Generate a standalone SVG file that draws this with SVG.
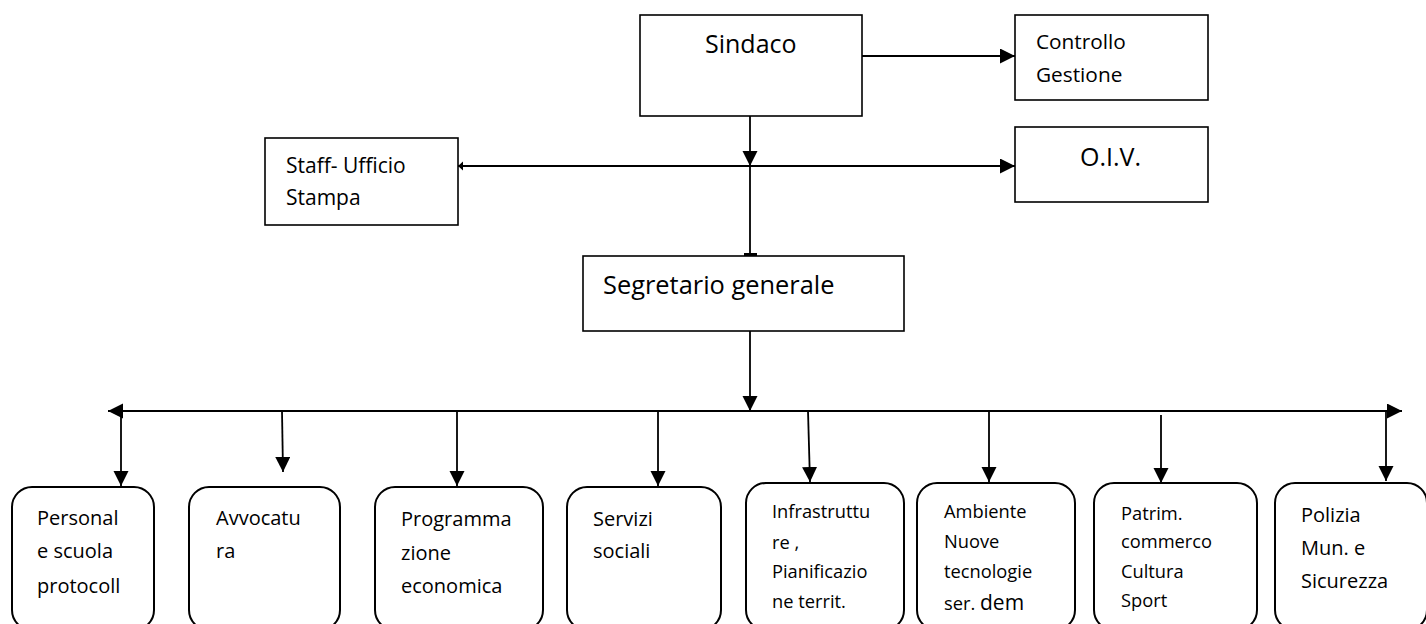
<svg xmlns="http://www.w3.org/2000/svg" width="1426" height="624" viewBox="0 0 1426 624">
  <style>
    .box { fill: #ffffff; stroke: #000000; stroke-width: 1.6; }
    .rbox { fill: #ffffff; stroke: #000000; stroke-width: 2; }
    .line { fill: none; stroke: #000000; stroke-width: 1.8; }
    text { font-family: "Open Sans", "Liberation Sans", sans-serif; fill: #000000; }
    .t20 { font-size: 20px; }
    .t18 { font-size: 18.3px; }
    .t25 { font-size: 25px; }
  </style>
  <defs>
    <marker id="arrow" markerUnits="userSpaceOnUse" markerWidth="16" markerHeight="16" refX="15" refY="7.5" orient="auto" viewBox="0 0 16 16">
      <path d="M0,0 L15,7.5 L0,15 z" fill="#000000"/>
    </marker>
    <marker id="small" markerUnits="userSpaceOnUse" markerWidth="8" markerHeight="10" refX="5" refY="4.5" orient="auto" viewBox="0 0 8 10">
      <path d="M0,0 L5,4.5 L0,9 z" fill="#000000"/>
    </marker>
  </defs>

  <g id="connectors">
    <line class="line" x1="862" y1="56" x2="1015" y2="56" marker-end="url(#arrow)"/>
    <line class="line" x1="750" y1="116" x2="750" y2="166" marker-end="url(#arrow)"/>
    <line class="line" x1="750" y1="166" x2="1015" y2="166" marker-end="url(#arrow)"/>
    <line class="line" x1="750" y1="166" x2="458" y2="166" marker-end="url(#small)"/>
    <line class="line" x1="750" y1="166" x2="750" y2="256"/>
    <rect x="744" y="253" width="13" height="3" fill="#000000"/>
    <line class="line" x1="750" y1="331" x2="750" y2="411" marker-end="url(#arrow)"/>
    <line class="line" x1="750" y1="411" x2="108" y2="411" marker-end="url(#arrow)"/>
    <line class="line" x1="750" y1="411" x2="1402" y2="411" marker-end="url(#arrow)"/>
    <line class="line" x1="121" y1="411" x2="121" y2="486" marker-end="url(#arrow)"/>
    <line class="line" x1="282" y1="411" x2="283" y2="472" marker-end="url(#arrow)"/>
    <line class="line" x1="457" y1="411" x2="457" y2="486" marker-end="url(#arrow)"/>
    <line class="line" x1="658" y1="411" x2="658" y2="486" marker-end="url(#arrow)"/>
    <line class="line" x1="808" y1="411" x2="810" y2="482" marker-end="url(#arrow)"/>
    <line class="line" x1="989" y1="411" x2="989" y2="482" marker-end="url(#arrow)"/>
    <line class="line" x1="1161" y1="415" x2="1161" y2="483" marker-end="url(#arrow)"/>
    <line class="line" x1="1386" y1="411" x2="1386" y2="481" marker-end="url(#arrow)"/>
  </g>

  <g id="sindaco">
    <rect class="box" x="640" y="15" width="222" height="101"/>
    <text class="t25" x="705" y="53">Sindaco</text>
  </g>

  <g id="controllo-gestione">
    <rect class="box" x="1015" y="15" width="193" height="85"/>
    <text class="t20" x="1036" y="49" style="font-size:20.8px">Controllo</text>
    <text class="t20" x="1036" y="82" style="font-size:20.8px">Gestione</text>
  </g>

  <g id="oiv">
    <rect class="box" x="1015" y="127" width="193" height="75"/>
    <text class="t25" x="1080" y="166">O.I.V.</text>
  </g>

  <g id="staff">
    <rect class="box" x="265" y="138" width="193" height="87"/>
    <text class="t20" x="286" y="173" style="font-size:21px">Staff- Ufficio</text>
    <text class="t20" x="286" y="205" style="font-size:21px">Stampa</text>
  </g>

  <g id="segretario">
    <rect class="box" x="583" y="256" width="321" height="75"/>
    <text class="t25" x="603" y="294" style="font-size:25.4px">Segretario generale</text>
  </g>

  <g id="personale">
    <rect class="rbox" x="12" y="487" width="142" height="143" rx="20" ry="20"/>
    <text class="t20" x="37" y="525">Personal</text>
    <text class="t20" x="37" y="558">e scuola</text>
    <text class="t20" x="37" y="593">protocoll</text>
  </g>

  <g id="avvocatura">
    <rect class="rbox" x="189" y="487" width="151" height="143" rx="20" ry="20"/>
    <text class="t20" x="216" y="525">Avvocatu</text>
    <text class="t20" x="216" y="558">ra</text>
  </g>

  <g id="programmazione">
    <rect class="rbox" x="375" y="487" width="168" height="143" rx="20" ry="20"/>
    <text class="t20" x="401" y="526">Programma</text>
    <text class="t20" x="401" y="560">zione</text>
    <text class="t20" x="401" y="593">economica</text>
  </g>

  <g id="servizi-sociali">
    <rect class="rbox" x="567" y="487" width="154" height="143" rx="20" ry="20"/>
    <text class="t20" x="593" y="526">Servizi</text>
    <text class="t20" x="593" y="558">sociali</text>
  </g>

  <g id="infrastrutture">
    <rect class="rbox" x="746" y="483" width="158" height="147" rx="20" ry="20"/>
    <text class="t18" x="772" y="518">Infrastruttu</text>
    <text class="t18" x="772" y="549">re ,</text>
    <text class="t18" x="772" y="578">Pianificazio</text>
    <text class="t18" x="772" y="608">ne territ.</text>
  </g>

  <g id="ambiente">
    <rect class="rbox" x="917" y="483" width="158" height="147" rx="20" ry="20"/>
    <text class="t18" x="944" y="518">Ambiente</text>
    <text class="t18" x="944" y="548">Nuove</text>
    <text class="t18" x="944" y="578">tecnologie</text>
    <text class="t18" x="944" y="610">ser. <tspan style="font-size:21px">dem</tspan></text>
  </g>

  <g id="patrimonio">
    <rect class="rbox" x="1094" y="483" width="163" height="147" rx="20" ry="20"/>
    <text class="t18" x="1121" y="520">Patrim.</text>
    <text class="t18" x="1121" y="548">commerco</text>
    <text class="t18" x="1121" y="578">Cultura</text>
    <text class="t18" x="1121" y="607">Sport</text>
  </g>

  <g id="polizia">
    <rect class="rbox" x="1275" y="483" width="152" height="147" rx="20" ry="20"/>
    <text class="t20" x="1301" y="522">Polizia</text>
    <text class="t20" x="1301" y="555">Mun. e</text>
    <text class="t20" x="1301" y="588">Sicurezza</text>
  </g>
</svg>
